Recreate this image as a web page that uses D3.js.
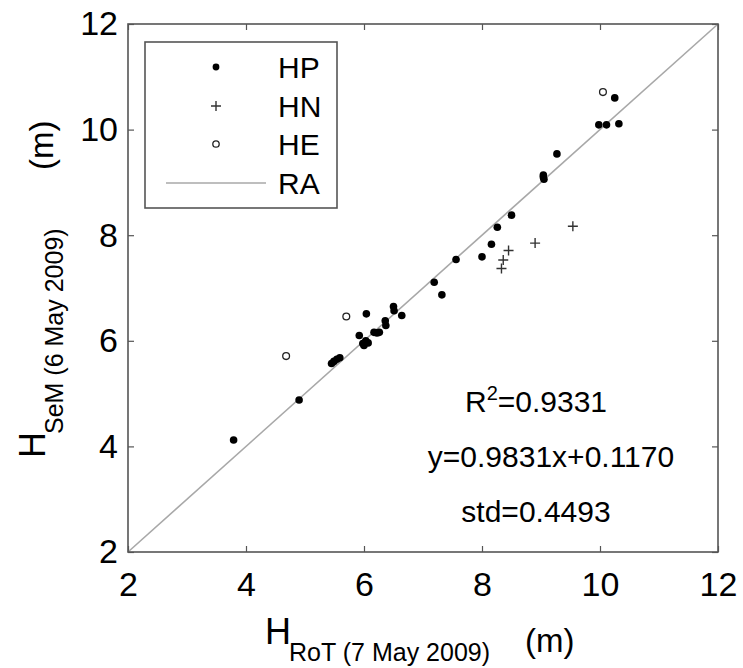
<!DOCTYPE html>
<html>
<head>
<meta charset="utf-8">
<script src="https://cdn.jsdelivr.net/npm/d3@7"></script>
<style>
  html, body { margin: 0; padding: 0; background: #fff; }
  svg { display: block; font-family: "Liberation Sans", Arial, sans-serif; }
</style>
</head>
<body>
<div id="chart"></div>
<script>
// values
var ticks = [2, 4, 6, 8, 10, 12];
var hpX = [3.79, 4.90, 5.45, 5.49, 5.54, 5.59, 5.92, 5.98, 6.00, 6.03, 6.07, 6.04, 6.17, 6.22, 6.26, 6.36, 6.37, 6.50, 6.51, 6.64, 7.19, 7.32, 7.56, 8.00, 8.16, 8.26, 8.50, 9.04, 9.04, 9.05, 9.27, 9.98, 10.11, 10.32, 10.25];
var hpY = [4.12, 4.88, 5.57, 5.61, 5.65, 5.68, 6.10, 5.95, 5.91, 6.00, 5.96, 6.51, 6.16, 6.15, 6.16, 6.38, 6.29, 6.65, 6.57, 6.48, 7.11, 6.87, 7.54, 7.59, 7.83, 8.15, 8.38, 9.14, 9.10, 9.06, 9.54, 10.09, 10.09, 10.11, 10.60];
var hnX = [8.33, 8.36, 8.45, 8.90, 9.54];
var hnY = [7.37, 7.53, 7.71, 7.85, 8.17];
var heX = [4.68, 5.70, 10.05];
var heY = [5.71, 6.46, 10.71];
var raLine = [2, 12];
var legendNames = ["HP", "HN", "HE", "RA"];
var statLines = ["y=0.9831x+0.1170", "std=0.4493"];

var width = 743, height = 668;
var margin = { top: 24, right: 25, bottom: 116, left: 128 };
var frameColor = "#555";

var svg = d3.select("#chart").append("svg")
  .attr("width", width)
  .attr("height", height);

var x = d3.scaleLinear().domain([2, 12]).range([margin.left, width - margin.right]);
var y = d3.scaleLinear().domain([2, 12]).range([height - margin.bottom, margin.top]);

// inward ticks on all four sides, labels only bottom and left
var tickLen = 6;
svg.append("g")
  .attr("transform", "translate(0," + y(2) + ")")
  .call(d3.axisBottom(x).tickValues(ticks).tickSize(-tickLen).tickPadding(20).tickFormat(d3.format("d")))
  .call(g => g.select(".domain").remove())
  .call(g => g.selectAll("line").attr("stroke", frameColor).attr("stroke-width", 1.2))
  .call(g => g.selectAll("text").attr("font-size", 34).attr("fill", "#000").attr("font-family", "Liberation Sans, Arial, sans-serif"));
svg.append("g")
  .attr("transform", "translate(" + x(2) + ",0)")
  .call(d3.axisLeft(y).tickValues(ticks).tickSize(-tickLen).tickPadding(10).tickFormat(d3.format("d")))
  .call(g => g.select(".domain").remove())
  .call(g => g.selectAll("line").attr("stroke", frameColor).attr("stroke-width", 1.2))
  .call(g => g.selectAll("text").attr("font-size", 34).attr("fill", "#000").attr("font-family", "Liberation Sans, Arial, sans-serif"));
svg.append("g")
  .attr("transform", "translate(0," + y(12) + ")")
  .call(d3.axisTop(x).tickValues(ticks).tickSize(-tickLen).tickFormat(""))
  .call(g => g.select(".domain").remove())
  .call(g => g.selectAll("line").attr("stroke", frameColor).attr("stroke-width", 1.2));
svg.append("g")
  .attr("transform", "translate(" + x(12) + ",0)")
  .call(d3.axisRight(y).tickValues(ticks).tickSize(-tickLen).tickFormat(""))
  .call(g => g.select(".domain").remove())
  .call(g => g.selectAll("line").attr("stroke", frameColor).attr("stroke-width", 1.2));

// 1:1 reference line
svg.append("line")
  .attr("x1", x(raLine[0])).attr("y1", y(raLine[0]))
  .attr("x2", x(raLine[1])).attr("y2", y(raLine[1]))
  .attr("stroke", "#a8a8a8").attr("stroke-width", 1.6);

// frame
svg.append("rect")
  .attr("x", x(2)).attr("y", y(12))
  .attr("width", x(12) - x(2)).attr("height", y(2) - y(12))
  .attr("fill", "none").attr("stroke", frameColor).attr("stroke-width", 1.6);

// HP filled dots
svg.append("g").selectAll("circle")
  .data(hpX.map((v, i) => [v, hpY[i]]))
  .join("circle")
  .attr("cx", d => x(d[0])).attr("cy", d => y(d[1]))
  .attr("r", 3.8).attr("fill", "#000");

// HN plus signs
var ps = 5;
svg.append("g").selectAll("path")
  .data(hnX.map((v, i) => [v, hnY[i]]))
  .join("path")
  .attr("d", d => {
    var cx = x(d[0]), cy = y(d[1]);
    return "M" + (cx - ps) + "," + cy + "H" + (cx + ps) + "M" + cx + "," + (cy - ps) + "V" + (cy + ps);
  })
  .attr("stroke", "#333").attr("stroke-width", 1.4).attr("fill", "none");

// HE open circles
svg.append("g").selectAll("circle")
  .data(heX.map((v, i) => [v, heY[i]]))
  .join("circle")
  .attr("cx", d => x(d[0])).attr("cy", d => y(d[1]))
  .attr("r", 3.4).attr("fill", "#fff").attr("stroke", "#222").attr("stroke-width", 1.3);

// legend
var leg = svg.append("g");
leg.append("rect")
  .attr("x", 145).attr("y", 42).attr("width", 192).attr("height", 166)
  .attr("fill", "#fff").attr("stroke", frameColor).attr("stroke-width", 1.6);
var rowY = [67, 106, 144, 183];
var mx = 216;
leg.append("circle").attr("cx", mx).attr("cy", rowY[0]).attr("r", 3.4).attr("fill", "#000");
leg.append("path")
  .attr("d", "M" + (mx - ps) + "," + rowY[1] + "H" + (mx + ps) + "M" + mx + "," + (rowY[1] - ps) + "V" + (rowY[1] + ps))
  .attr("stroke", "#333").attr("stroke-width", 1.4);
leg.append("circle").attr("cx", mx).attr("cy", rowY[2]).attr("r", 3.2)
  .attr("fill", "#fff").attr("stroke", "#222").attr("stroke-width", 1.3);
leg.append("line").attr("x1", 166).attr("x2", 266).attr("y1", rowY[3]).attr("y2", rowY[3])
  .attr("stroke", "#a8a8a8").attr("stroke-width", 1.6);
leg.selectAll("text")
  .data(legendNames)
  .join("text")
  .attr("x", 278).attr("y", (d, i) => rowY[i] + 11)
  .attr("font-size", 30).attr("fill", "#000")
  .text(d => d);

// statistics
var r2 = svg.append("text").attr("x", 536).attr("y", 412)
  .attr("text-anchor", "middle").attr("font-size", 30).attr("fill", "#000");
r2.append("tspan").text("R");
r2.append("tspan").attr("dy", -12).attr("font-size", 20).text("2");
r2.append("tspan").attr("dy", 12).text("=0.9331");
svg.append("text").attr("x", 551).attr("y", 467)
  .attr("text-anchor", "middle").attr("font-size", 30).attr("fill", "#000").text(statLines[0]);
svg.append("text").attr("x", 536).attr("y", 522)
  .attr("text-anchor", "middle").attr("font-size", 30).attr("fill", "#000").text(statLines[1]);

// axis titles
var xt = svg.append("g");
xt.append("text").attr("x", 265).attr("y", 644).attr("font-size", 36).text("H");
xt.append("text").attr("x", 289).attr("y", 661).attr("font-size", 25).text("RoT (7 May 2009)");
xt.append("text").attr("x", 525).attr("y", 652).attr("font-size", 33).text("(m)");

var yt = svg.append("g").attr("transform", "rotate(-90)");
yt.append("text").attr("x", -458).attr("y", 45).attr("font-size", 36).text("H");
yt.append("text").attr("x", -434).attr("y", 63).attr("font-size", 25).text("SeM (6 May 2009)");
yt.append("text").attr("x", -170).attr("y", 53).attr("font-size", 33).text("(m)");
</script>
</body>
</html>
